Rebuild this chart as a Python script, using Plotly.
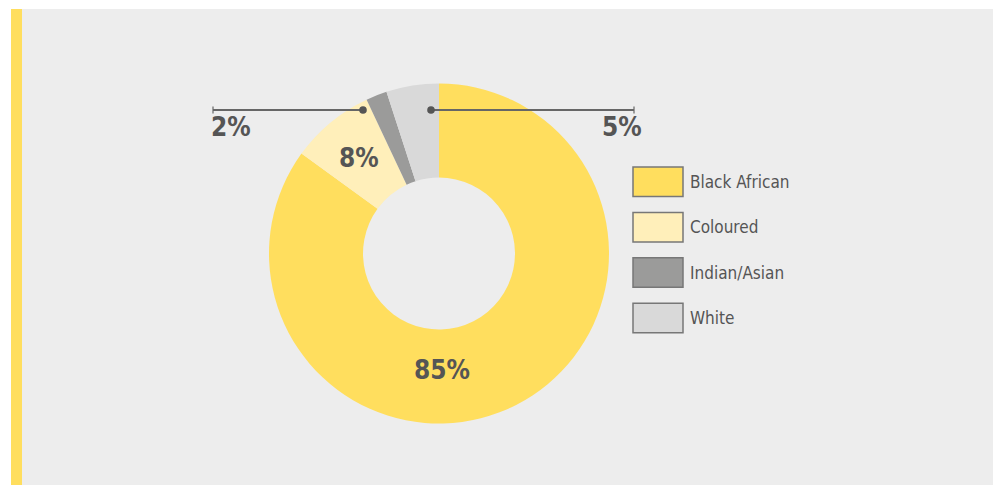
import plotly.graph_objects as go

# Population share by group
categories = ["Black African", "Coloured", "Indian/Asian", "White"]
values = [85, 8, 2, 5]
colors = ["#FFDE5E", "#FFEFBA", "#9B9B9A", "#D9D9D9"]

W, H = 993, 485
TEXT = "#555555"
FONT = "DejaVu Sans Condensed"


def px(x):
    return x / W


def py(y):
    return 1 - y / H


fig = go.Figure()

# Donut, drawn clockwise from 12 o'clock
cx, cy, r = 439, 253.5, 170
fig.add_trace(go.Pie(
    labels=categories,
    values=values,
    marker=dict(colors=colors, line=dict(width=0)),
    hole=0.447,
    sort=False,
    direction="clockwise",
    rotation=0,
    textinfo="none",
    hoverinfo="label+percent",
    showlegend=False,
    domain=dict(x=[px(cx - r), px(cx + r)], y=[py(cy + r), py(cy - r)]),
))

shapes = [
    # panel background and left accent bar
    dict(type="rect", xref="paper", yref="paper", layer="below",
         x0=px(22), x1=1, y0=0, y1=py(9), fillcolor="#EDEDED", line=dict(width=0)),
    dict(type="rect", xref="paper", yref="paper", layer="below",
         x0=px(11), x1=px(22), y0=0, y1=py(9), fillcolor="#FFDE5E", line=dict(width=0)),
]

annotations = []

# Callout lines for the two thin slices
line_col = "#666666"
ly = 110
for x_dot, x_end in [(363, 213), (431, 634)]:
    shapes.append(dict(type="line", xref="paper", yref="paper",
                       x0=px(x_dot), x1=px(x_end), y0=py(ly), y1=py(ly),
                       line=dict(color=line_col, width=2)))
    shapes.append(dict(type="line", xref="paper", yref="paper",
                       x0=px(x_end), x1=px(x_end), y0=py(ly - 3.5), y1=py(ly + 3.5),
                       line=dict(color=line_col, width=1.2)))
    shapes.append(dict(type="circle", xref="paper", yref="paper",
                       x0=px(x_dot - 3.8), x1=px(x_dot + 3.8),
                       y0=py(ly + 3.8), y1=py(ly - 3.8),
                       fillcolor="#555555", line=dict(width=0)))

# Percentage labels
label_pos = {
    "Black African": (442, 370, "center"),
    "Coloured": (359, 158, "center"),
    "Indian/Asian": (209, 127, "left"),
    "White": (644, 127, "right"),
}
for cat, v in zip(categories, values):
    x, y, anchor = label_pos[cat]
    annotations.append(dict(
        x=px(x), y=py(y), xref="paper", yref="paper", xanchor=anchor, yanchor="middle",
        text=f"<b>{v}%</b>", showarrow=False,
        font=dict(family=FONT, size=26, color=TEXT),
    ))

# Legend: swatches with labels
box_x0, box_x1 = 633, 683
top0, step, box_h = 167, 45.4, 29.5
for i, (cat, col) in enumerate(zip(categories, colors)):
    t = top0 + i * step
    shapes.append(dict(type="rect", xref="paper", yref="paper",
                       x0=px(box_x0), x1=px(box_x1), y0=py(t + box_h), y1=py(t),
                       fillcolor=col, line=dict(color="#777777", width=1.5)))
    annotations.append(dict(
        x=px(688), y=py(t + box_h / 2), xref="paper", yref="paper",
        xanchor="left", yanchor="middle", text=cat, showarrow=False,
        font=dict(family=FONT, size=17, color=TEXT),
    ))

fig.update_layout(
    width=W, height=H,
    margin=dict(l=0, r=0, t=0, b=0),
    paper_bgcolor="white",
    plot_bgcolor="white",
    shapes=shapes,
    annotations=annotations,
)

fig.write_html("out.html")
